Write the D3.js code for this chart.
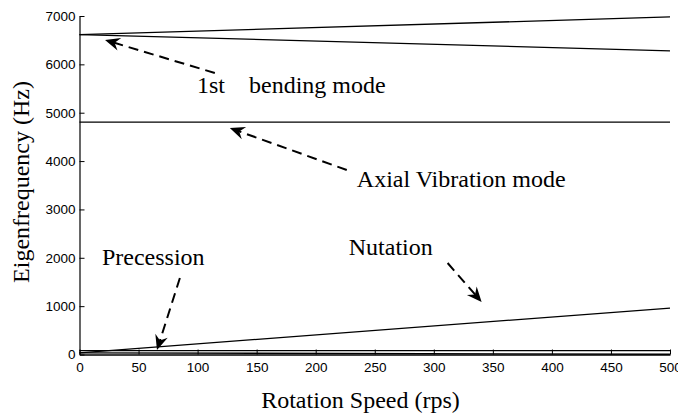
<!DOCTYPE html>
<html>
<head>
<meta charset="utf-8">
<script src="https://cdn.jsdelivr.net/npm/d3@7"></script>
<style>
  body { margin: 0; background: #fff; }
  svg { display: block; }
  .tick text { font-family: "Liberation Sans", Arial, sans-serif; font-size: 13.5px; fill: #000; }
  .serif { font-family: "Liberation Serif", "Times New Roman", serif; font-size: 24px; fill: #000; }
</style>
</head>
<body>
<div id="svg-container"></div>
<script>
// rotation speed (rps) at the two ends of each branch
const speed = [0, 500];
// eigenfrequency branches (Hz)
const bendingForward = [6615, 6980];
const bendingBackward = [6615, 6280];
const axialMode = [4805, 4805];
const nutation = [35, 960];
const precessionFlat = [80, 80];
const precession = [35, 5];

const xTicks = [0, 50, 100, 150, 200, 250, 300, 350, 400, 450, 500];
const yTicks = [0, 1000, 2000, 3000, 4000, 5000, 6000, 7000];

// annotations in data units: text anchor + arrow tail -> tip
const notes = [
  { label: "1st    bending mode", tx: 99.5, ty: 5408, from: [114.6, 5821], to: [21.6, 6504] },
  { label: "Axial Vibration mode", tx: 234.8, ty: 3464, from: [226.3, 3815], to: [127.3, 4683] },
  { label: "Precession", tx: 19, ty: 1851, from: [85, 1582], to: [65.6, 93] },
  { label: "Nutation", tx: 228, ty: 2058, from: [311.7, 1892], to: [340.5, 1086] }
];

const width = 678, height = 414;
const mLeft = 79.5, mRight = 670, mTop = 16, mBottom = 354.5;

const svg = d3.select("#svg-container").append("svg")
  .attr("width", width)
  .attr("height", height);

const x = d3.scaleLinear().domain([0, 500]).range([mLeft, mRight]);
const y = d3.scaleLinear().domain([0, 7000]).range([mBottom, mTop]);

// axes, ticks pointing inward
const xAxis = svg.append("g")
  .attr("transform", `translate(0,${mBottom})`)
  .call(d3.axisBottom(x).tickValues(xTicks).tickFormat(d3.format("d"))
    .tickSize(-5).tickPadding(8).tickSizeOuter(0));
xAxis.select(".domain").attr("stroke-width", 1.6);

const yAxis = svg.append("g")
  .attr("transform", `translate(${mLeft},0)`)
  .call(d3.axisLeft(y).tickValues(yTicks).tickFormat(d3.format("d"))
    .tickSize(-5).tickPadding(4).tickSizeOuter(0));
yAxis.select(".domain").attr("stroke-width", 1.2);

svg.selectAll(".tick line").attr("stroke", "#000").attr("stroke-width", 1);

// branches
const branches = [bendingForward, bendingBackward, axialMode, nutation, precessionFlat, precession];
const line = d3.line().x((d, i) => x(speed[i])).y(d => y(d));

svg.append("g").selectAll("path")
  .data(branches)
  .enter().append("path")
  .attr("d", d => line(d))
  .attr("fill", "none")
  .attr("stroke", "#000")
  .attr("stroke-width", 1.3);

// axis titles
svg.append("text")
  .attr("class", "serif")
  .attr("x", 360.5)
  .attr("y", 408)
  .attr("text-anchor", "middle")
  .text("Rotation Speed (rps)");

svg.append("text")
  .attr("class", "serif")
  .attr("transform", "translate(29,182) rotate(-90)")
  .attr("text-anchor", "middle")
  .text("Eigenfrequency (Hz)");

// annotations
const ann = svg.append("g");
notes.forEach(n => {
  ann.append("text")
    .attr("class", "serif")
    .attr("x", x(n.tx))
    .attr("y", y(n.ty))
    .style("white-space", "pre")
    .text(n.label);

  const x0 = x(n.from[0]), y0 = y(n.from[1]);
  const x1 = x(n.to[0]), y1 = y(n.to[1]);
  const ang = Math.atan2(y1 - y0, x1 - x0);
  const len = Math.hypot(x1 - x0, y1 - y0);

  const g = ann.append("g")
    .attr("transform", `translate(${x1},${y1}) rotate(${ang * 180 / Math.PI})`);
  g.append("line")
    .attr("x1", -len).attr("y1", 0)
    .attr("x2", -9).attr("y2", 0)
    .attr("stroke", "#000")
    .attr("stroke-width", 2)
    .attr("stroke-dasharray", "10,6");
  g.append("path")
    .attr("d", "M0,0 L-15,-6.5 L-10,0 L-15,6.5 Z")
    .attr("fill", "#000");
});
</script>
</body>
</html>
